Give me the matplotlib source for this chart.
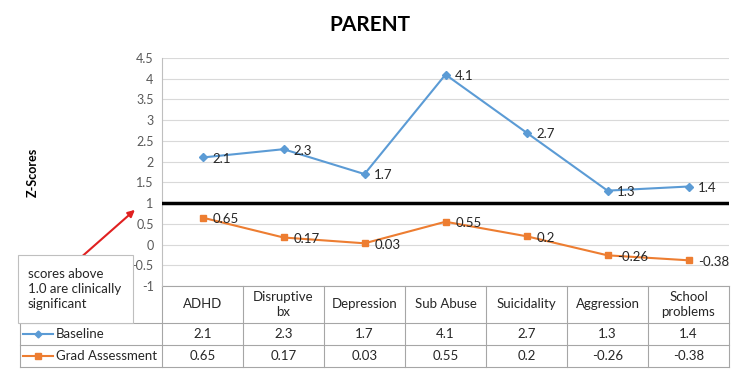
import matplotlib.pyplot as plt
from matplotlib.patches import Rectangle
from matplotlib.transforms import blended_transform_factory

plt.rcParams['font.family'] = ['Lato', 'DejaVu Sans']

categories = ['ADHD', 'Disruptive\nbx', 'Depression', 'Sub Abuse', 'Suicidality', 'Aggression', 'School\nproblems']
baseline = [2.1, 2.3, 1.7, 4.1, 2.7, 1.3, 1.4]
grad = [0.65, 0.17, 0.03, 0.55, 0.2, -0.26, -0.38]
baseline_labels = ['2.1', '2.3', '1.7', '4.1', '2.7', '1.3', '1.4']
grad_labels = ['0.65', '0.17', '0.03', '0.55', '0.2', '-0.26', '-0.38']
yticks = [-1, -0.5, 0, 0.5, 1, 1.5, 2, 2.5, 3, 3.5, 4, 4.5]

W, H = 741, 374
blue = '#5b9bd5'
orange = '#ed7d31'
gray_text = '#595959'
grid_c = '#d9d9d9'
table_c = '#a6a6a6'
txt_c = '#262626'


def fx(x):
    return x / W


def fy(y):
    return 1 - y / H


fig = plt.figure(figsize=(W / 100, H / 100), dpi=100)
ax = fig.add_axes([fx(162), fy(286), fx(729) - fx(162), fy(58) - fy(286)])

xs = list(range(len(categories)))
ax.plot(xs, baseline, color=blue, lw=1.5, marker='D', ms=4, zorder=3)
ax.plot(xs, grad, color=orange, lw=1.5, marker='s', ms=5, zorder=3)
for x, v, t in zip(xs, baseline, baseline_labels):
    ax.annotate(t, (x, v), xytext=(7, -1), textcoords='offset points',
                va='center', ha='left', fontsize=9.5, color=txt_c)
for x, v, t in zip(xs, grad, grad_labels):
    ax.annotate(t, (x, v), xytext=(7, -1), textcoords='offset points',
                va='center', ha='left', fontsize=9.5, color=txt_c)

ax.axhline(1, color='black', lw=2.5, zorder=4)

ax.set_xlim(-0.5, len(categories) - 0.5)
ax.set_ylim(-1, 4.5)
ax.set_yticks(yticks)
ax.set_yticklabels([f'{t:g}' for t in yticks])
ax.tick_params(axis='y', length=0, labelsize=9, labelcolor=gray_text, pad=6)
ax.set_xticks([])
ax.grid(axis='y', color=grid_c, lw=0.8)
ax.set_axisbelow(True)
for s in ['top', 'right', 'bottom']:
    ax.spines[s].set_visible(False)
ax.spines['left'].set_color('#bfbfbf')

# data table under the plot: x in data units, y in figure pixels
tr = blended_transform_factory(ax.transData, fig.transFigure)
y_top, y_head, y_r1, y_r2 = 286, 323, 345, 367
x_left = -0.5 - (162 - 20) / 81.0
n = len(categories)
kw = dict(transform=tr, color=table_c, lw=0.8, clip_on=False)
ax.plot([x_left, n - 0.5], [fy(y_head)] * 2, **kw)
ax.plot([x_left, n - 0.5], [fy(y_r1)] * 2, **kw)
ax.plot([x_left, n - 0.5], [fy(y_r2)] * 2, **kw)
ax.plot([-0.5, n - 0.5], [fy(y_top)] * 2, **kw)
ax.plot([x_left, x_left], [fy(y_head), fy(y_r2)], **kw)
for i in range(n + 1):
    ax.plot([i - 0.5, i - 0.5], [fy(y_top), fy(y_r2)], **kw)
for i, c in enumerate(categories):
    ax.text(i, fy((y_top + y_head) / 2), c, transform=tr, ha='center', va='center',
            fontsize=9.5, color=txt_c, linespacing=1.3)
    ax.text(i, fy((y_head + y_r1) / 2), baseline_labels[i], transform=tr,
            ha='center', va='center', fontsize=9.5, color=txt_c)
    ax.text(i, fy((y_r1 + y_r2) / 2), grad_labels[i], transform=tr,
            ha='center', va='center', fontsize=9.5, color=txt_c)

# legend keys inside the row label cells
for name, y, col, mk, ms in [('Baseline', 334, blue, 'D', 3.5),
                             ('Grad Assessment', 356, orange, 's', 5)]:
    fig.add_artist(plt.Line2D([fx(23), fx(53)], [fy(y), fy(y)], color=col, lw=1.5,
                              transform=fig.transFigure))
    fig.add_artist(plt.Line2D([fx(38)], [fy(y)], color=col, marker=mk, ms=ms,
                              transform=fig.transFigure))
    fig.text(fx(56), fy(y), name, fontsize=9.5, color=txt_c, ha='left', va='center')

# note box and arrow
fig.add_artist(Rectangle((fx(18), fy(323)), fx(133) - fx(18), fy(255) - fy(323),
                         transform=fig.transFigure, facecolor='white',
                         edgecolor='#bfbfbf', lw=0.8, zorder=5))
fig.text(fx(28), fy(289), 'scores above\n1.0 are clinically\nsignificant',
         fontsize=9.5, va='center', ha='left', color=txt_c, zorder=6,
         linespacing=1.25)
ax.annotate('', xy=(fx(137), fy(208)), xytext=(fx(78), fy(260)),
            xycoords='figure fraction', textcoords='figure fraction',
            arrowprops=dict(arrowstyle='-|>', color='#e02020', lw=1.5,
                            mutation_scale=10), zorder=7)

fig.text(fx(370), fy(25), 'PARENT', fontsize=15, fontweight='bold',
         ha='center', va='center')
fig.text(fx(33), fy(172), 'Z-Scores', fontsize=9, fontweight='bold',
         rotation=90, ha='center', va='center')

fig.savefig('out.png', dpi=100)
